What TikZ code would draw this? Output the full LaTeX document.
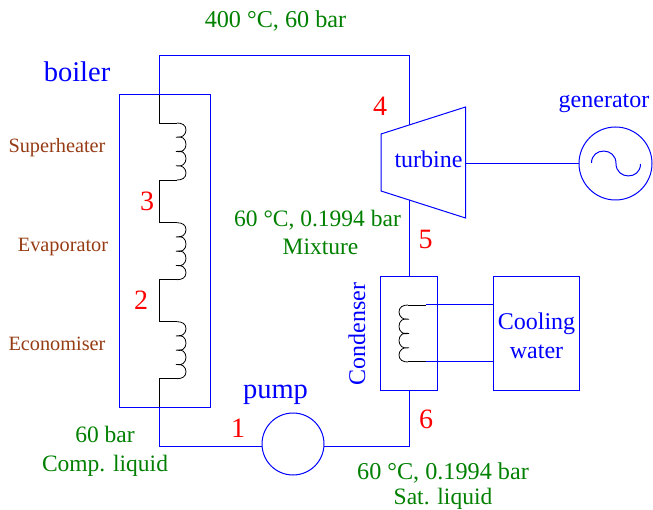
\documentclass[tikz,border=0pt]{standalone}
\usepackage{fontspec}
\setmainfont{Liberation Serif}
\definecolor{pipeblue}{RGB}{0,0,255}
\definecolor{statgreen}{RGB}{0,128,0}
\definecolor{partbrown}{RGB}{150,60,20}
\tikzset{
	pipe/.style={draw=pipeblue, line width=1pt},
	unit/.style={pipe, rectangle, inner sep=0pt, outer sep=0pt},
	wheel/.style={pipe, circle, inner sep=0pt, outer sep=0pt},
	coilline/.style={draw=black, line width=0.8pt},
	name text/.style={text=pipeblue, anchor=base, inner sep=0pt, font=\fontsize{24}{28}\selectfont},
	state text/.style={text=statgreen, anchor=base, inner sep=0pt, font=\fontsize{23.5}{28}\selectfont},
	part text/.style={text=partbrown, anchor=base, inner sep=0pt, font=\fontsize{20.3}{23}\selectfont},
	point text/.style={text=red, anchor=base, inner sep=0pt, font=\fontsize{28}{30}\selectfont},
	coil/.pic={
		\draw[coilline] (0,0) .. controls (5,0) and (9,2) .. (9,7) .. controls (9,11.5) and (5,15.5) .. (-1,14.25)
			.. controls (5,12.5) and (9,16) .. (9,21.4) .. controls (9,26.5) and (5,30) .. (-1,28.5)
			.. controls (5,26.75) and (9,30.5) .. (9,35.6) .. controls (9,40.5) and (5,44.5) .. (-1,42.75)
			.. controls (5,41.5) and (9,45.5) .. (9,50) .. controls (9,55) and (5,57) .. (0,57);
	}
}
\begin{document}
\begin{tikzpicture}[x=1pt, y=-1pt]
	\useasboundingbox (0,0) rectangle (653,510);

	% boxes and wheels
	\node (boiler) [unit, minimum width=91, minimum height=312] at (165,251) {};
	\node (condenser) [unit, minimum width=56.5, minimum height=113.5] at (409,333.5) {};
	\node (cooling) [unit, minimum width=85.5, minimum height=113.5] at (536.5,333.5) {};
	\node (pump) [wheel, minimum size=62] at (293,444) {};
	\node (generator) [wheel, minimum size=73] at (615.5,163.5) {};

	% turbine
	\coordinate (turbinea) at (381,134);
	\coordinate (turbineb) at (465.5,107);
	\coordinate (turbinec) at (465.5,218);
	\coordinate (turbined) at (381,191);
	\coordinate (turbinein) at (409,125);
	\coordinate (turbineout) at (409,200);
	\coordinate (shaft) at (465.5,163.5);
	\draw[pipe] (turbinea) -- (turbineb) -- (turbinec) -- (turbined) -- cycle;

	% steam line
	\coordinate (boilertop) at (159.5,95);
	\coordinate (cornera) at (159.5,55.5);
	\coordinate (cornerb) at (409,55.5);
	\coordinate (cornerc) at (409,446.5);
	\coordinate (cornerd) at (159.5,446.5);
	\coordinate (boilerbottom) at (159.5,407);
	\draw[pipe] (boilertop) -- (cornera) -- (cornerb) -- (turbinein);
	\draw[pipe] (turbineout) -- (condenser.north -| turbineout);
	\draw[pipe] (condenser.south) -- (cornerc) -- (pump.east |- cornerc);
	\draw[pipe] (pump.west |- cornerd) -- (cornerd) -- (boilerbottom);
	\draw[pipe] (shaft) -- (generator.west);

	% cooling loop
	\coordinate (loopa) at (425.5,305);
	\coordinate (loopb) at (425.5,361.7);
	\draw[pipe] (loopa) -- (cooling.west |- loopa);
	\draw[pipe] (loopb) -- (cooling.west |- loopb);
	\coordinate (coilcond) at (408,305);
	\draw[coilline] (loopa) -- (coilcond);
	\draw[coilline] (loopb) -- (coilcond |- loopb);
	\pic[xscale=-1] at (coilcond) {coil};

	% boiler coils
	\coordinate (coilsuper) at (177,123);
	\coordinate (coilevap) at (177,222.7);
	\coordinate (coileco) at (177,321.7);
	\pic at (coilsuper) {coil};
	\pic at (coilevap) {coil};
	\pic at (coileco) {coil};
	\draw[coilline] (boilertop) -- (159.5,123) -- (coilsuper);
	\draw[coilline] (177,180) -- (159.5,180) -- (159.5,222.7) -- (coilevap);
	\draw[coilline] (177,279.7) -- (159.5,279.7) -- (159.5,321.7) -- (coileco);
	\draw[coilline] (177,378.7) -- (159.5,378.7) -- (boilerbottom);

	% generator sine
	\draw[pipe] (591.5,163) .. controls (591.5,147) and (616,147) .. (616,163.5)
		.. controls (616,180) and (640.5,180) .. (640.5,164);

	% names
	\node (boilername) [name text, font=\fontsize{28.5}{30}\selectfont] at (77,82) {boiler};
	\node (pumpname) [name text, font=\fontsize{28.5}{30}\selectfont] at (275.5,398) {pump};
	\node (turbinename) [name text] at (428.5,168) {turbine};
	\node (generatorname) [name text] at (604,108) {generator};
	\node (condensername) [name text, rotate=90] at (365,334) {Condenser};
	\node (coolingname) [name text] at (536.5,330) {Cooling};
	\node (watername) [name text] at (536.5,359) {water};

	% parts of the boiler
	\node (superheater) [part text] at (57,153) {Superheater};
	\node (evaporator) [part text] at (63,252) {Evaporator};
	\node (economiser) [part text] at (57,351) {Economiser};

	% state points
	\node (pointa) [point text] at (238,437) {1};
	\node (pointb) [point text] at (141,310) {2};
	\node (pointc) [point text] at (147,211) {3};
	\node (pointd) [point text] at (380,116) {4};
	\node (pointe) [point text] at (425.5,249) {5};
	\node (pointf) [point text] at (426,428) {6};

	% steam states
	\node (statetop) [state text, font=\fontsize{24.2}{28}\selectfont] at (275.5,28) {400 °C, 60 bar};
	\node (statemid) [state text] at (317.5,227) {60 °C, 0.1994 bar};
	\node (statemix) [state text] at (320.5,255) {Mixture};
	\node (statelow) [state text, font=\fontsize{24.2}{28}\selectfont] at (443,479) {60 °C, 0.1994 bar};
	\node (statesat) [state text] at (443,504.8) {Sat. liquid};
	\node (statepress) [state text] at (105,442) {60 bar};
	\node (statecomp) [state text] at (105,471) {Comp. liquid};
\end{tikzpicture}
\end{document}
